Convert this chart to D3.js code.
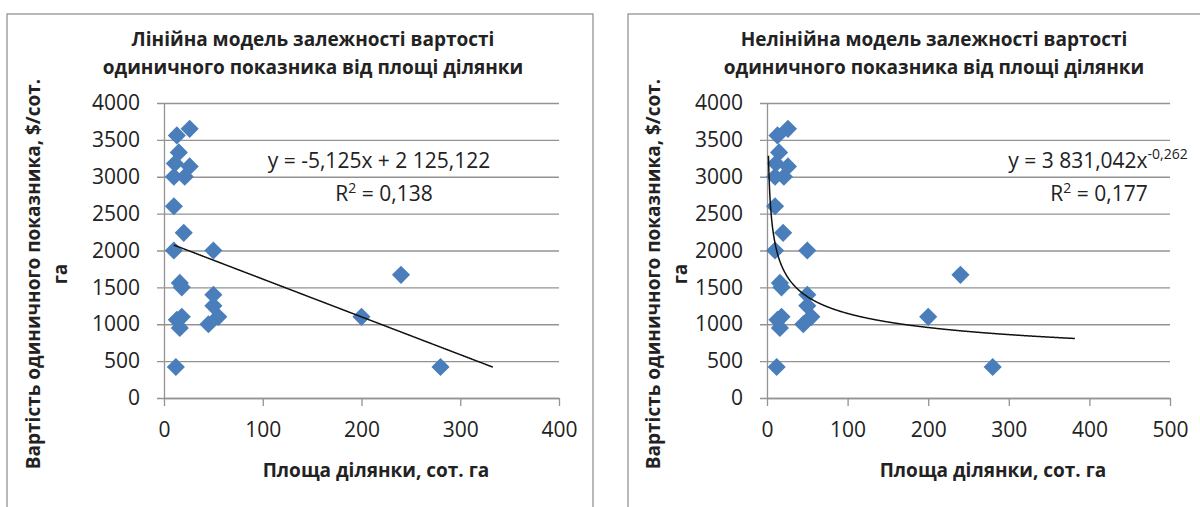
<!DOCTYPE html>
<html>
<head>
<meta charset="utf-8">
<script src="https://cdn.jsdelivr.net/npm/d3@7"></script>
<style>
  body { margin: 0; background: #fff; }
  svg { display: block; }
  text { font-family: "Open Sans", "DejaVu Sans", sans-serif; fill: #222; }
</style>
</head>
<body>
<svg id="chart" width="1200" height="507"></svg>
<script>
// Plot area in hundredths of a hectare (сот.) and unit price, $/сот.
const area  = [26, 13, 15, 11, 26, 10, 21, 10, 20, 10, 50, 16, 18, 50, 50, 55, 45, 18, 13, 16, 12, 200, 240, 280];
const price = [3650, 3560, 3330, 3180, 3140, 3000, 3000, 2600, 2240, 2000, 2000, 1560, 1500, 1400, 1250, 1100, 1000, 1100, 1060, 950, 420, 1100, 1670, 420];

const yTicks = [0, 500, 1000, 1500, 2000, 2500, 3000, 3500, 4000];
const xTicksLinear = [0, 100, 200, 300, 400];
const xTicksPower = [0, 100, 200, 300, 400, 500];

// Trendline coefficients as given in the chart labels
const linearCoef = [-5.125, 2125.122];   // y = a*x + b
const linearR2 = "0,138";
const linearSpan = [10, 333];
const powerCoef = [3831.042, -0.262];    // y = a*x^b
const powerR2 = "0,177";
const powerSpan = [1.8, 382];

const titleLines = ["Лінійна модель залежності вартості", "одиничного показника від площі ділянки"];
const titleLinesPower = ["Нелінійна модель залежності вартості", "одиничного показника від площі ділянки"];
const yTitle = ["Вартість одиничного показника, $/сот.", "га"];
const xTitle = "Площа ділянки, сот. га";

const svg = d3.select("#chart");
const data = area.map((a, i) => ({ x: a, y: price[i] }));

const gridColor = "#939393";
const plain = d3.format("d");

function panel(opt) {
  const g = svg.append("g");

  // chart frame
  g.append("rect")
    .attr("x", opt.frame[0]).attr("y", opt.frame[1])
    .attr("width", opt.frame[2]).attr("height", opt.frame[3])
    .attr("fill", "none").attr("stroke", "#8a8a8a").attr("stroke-width", 1.2);

  const x = d3.scaleLinear().domain([0, opt.xMax]).range([opt.x0, opt.x1]);
  const y = d3.scaleLinear().domain([0, 4000]).range([398, 103]);
  const w = opt.x1 - opt.x0;

  // y axis with gridlines spanning the plot
  const ya = g.append("g").attr("transform", `translate(${opt.x0},0)`)
    .call(d3.axisLeft(y).tickValues(yTicks).tickFormat(plain).tickSize(7).tickSizeOuter(0).tickPadding(17));
  ya.selectAll(".tick line").attr("x1", w).attr("stroke", gridColor).attr("stroke-width", 1.3);
  ya.select(".domain").attr("stroke", gridColor).attr("stroke-width", 1.3);
  ya.selectAll(".tick text").attr("font-size", 21).attr("font-family", "Open Sans").attr("fill", "#222");

  // x axis
  const xa = g.append("g").attr("transform", "translate(0,398)")
    .call(d3.axisBottom(x).tickValues(opt.xTicks).tickFormat(plain).tickSize(8).tickSizeOuter(0).tickPadding(16));
  xa.selectAll(".tick line").attr("stroke", gridColor).attr("stroke-width", 1.3);
  xa.select(".domain").attr("stroke", gridColor).attr("stroke-width", 1.3);
  xa.selectAll(".tick text").attr("font-size", 21).attr("font-family", "Open Sans").attr("fill", "#222");

  // markers
  const diamond = d3.symbol(d3.symbolSquare, 165);
  g.append("g").selectAll("path").data(data).join("path")
    .attr("d", diamond)
    .attr("transform", d => `translate(${x(d.x)},${y(d.y)}) rotate(45)`)
    .attr("fill", "#4a7ebb");

  // trendline
  const xs = d3.range(opt.span[0], opt.span[1], 0.5).concat([opt.span[1]]);
  g.append("path")
    .datum(xs)
    .attr("fill", "none").attr("stroke", "#111").attr("stroke-width", 1.5)
    .attr("d", d3.line().x(v => x(v)).y(v => y(opt.fit(v))));

  // title
  const t = g.append("text").attr("text-anchor", "middle").attr("font-weight", 700).attr("font-size", 19);
  opt.title.forEach((line, i) => {
    t.append("tspan").attr("x", opt.titleX).attr("y", 46 + i * 28).text(line);
  });

  // axis titles
  g.append("text").attr("text-anchor", "middle").attr("font-weight", 700).attr("font-size", 19)
    .attr("transform", `translate(${opt.yTitleX},274) rotate(-90)`).text(yTitle[0]);
  g.append("text").attr("text-anchor", "middle").attr("font-weight", 700).attr("font-size", 19)
    .attr("transform", `translate(${opt.yTitleX + 27},274) rotate(-90)`).text(yTitle[1]);
  g.append("text").attr("text-anchor", "middle").attr("font-weight", 700).attr("font-size", 19)
    .attr("x", opt.xTitleX).attr("y", 477).text(xTitle);

  // equation label
  const eq = g.append("text").attr("text-anchor", "middle").attr("font-size", 21);
  const l1 = eq.append("tspan").attr("x", opt.eqX).attr("y", 168);
  opt.eqLine(l1);
  const l2 = eq.append("tspan").attr("x", opt.eqX + opt.r2Shift).attr("y", 201);
  l2.append("tspan").text("R");
  l2.append("tspan").attr("font-size", 14).attr("dy", -8).text("2");
  l2.append("tspan").attr("dy", 8).text(" = " + opt.r2);
}

panel({
  frame: [7, 14, 586, 520],
  x0: 164, x1: 559, xMax: 400, xTicks: xTicksLinear,
  span: linearSpan,
  fit: v => linearCoef[0] * v + linearCoef[1],
  title: titleLines, titleX: 313,
  yTitleX: 40, xTitleX: 376,
  eqX: 379, r2Shift: 5, r2: linearR2,
  eqLine: s => s.text("y = -5,125x + 2 125,122")
});

panel({
  frame: [628, 14, 600, 520],
  x0: 767, x1: 1170, xMax: 500, xTicks: xTicksPower,
  span: powerSpan,
  fit: v => powerCoef[0] * Math.pow(v, powerCoef[1]),
  title: titleLinesPower, titleX: 934,
  yTitleX: 660, xTitleX: 993,
  eqX: 1098, r2Shift: 1, r2: powerR2,
  eqLine: s => {
    s.append("tspan").text("y = 3 831,042x");
    s.append("tspan").attr("font-size", 14).attr("dy", -9).text("-0,262");
  }
});
</script>
</body>
</html>
